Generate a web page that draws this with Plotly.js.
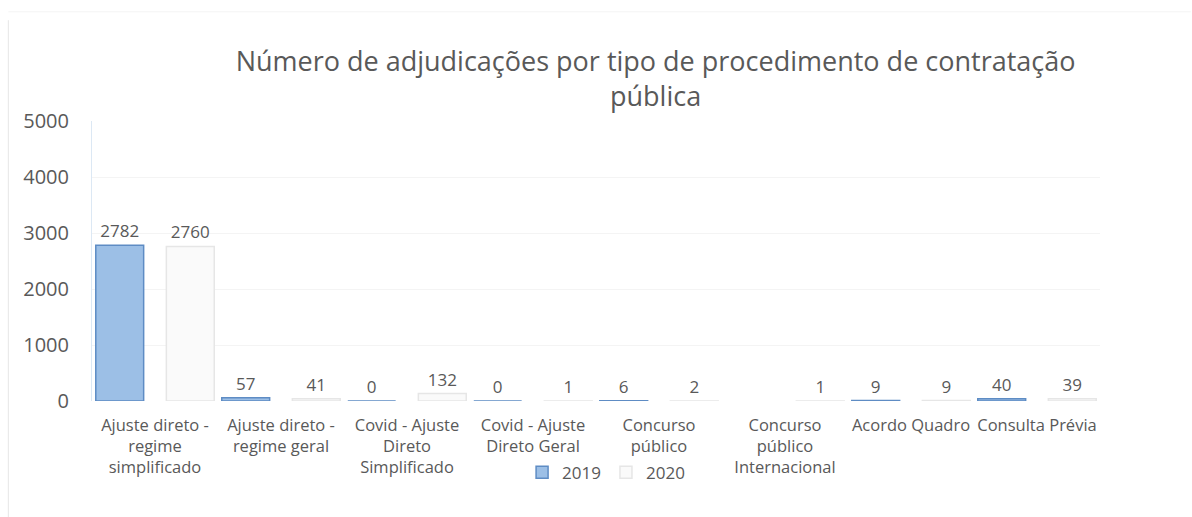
<!DOCTYPE html>
<html>
<head>
<meta charset="utf-8">
<script src="https://cdn.plot.ly/plotly-3.0.1.min.js"></script>
<style>html,body{margin:0;padding:0;background:#fff;}#chart{width:1192px;height:517px;}</style>
</head>
<body>
<div id="chart"></div>
<script>
const categories = [
  "Ajuste direto -<br>regime<br>simplificado",
  "Ajuste direto -<br>regime geral",
  "Covid - Ajuste<br>Direto<br>Simplificado",
  "Covid - Ajuste<br>Direto Geral",
  "Concurso<br>público",
  "Concurso<br>público<br>Internacional",
  "Acordo Quadro",
  "Consulta Prévia"
];
const values2019 = [2782, 57, 0, 0, 6, null, 9, 40];
const values2020 = [2760, 41, 132, 1, 2, 1, 9, 39];
const seriesNames = ["2019", "2020"];
const yTicks = [0, 1000, 2000, 3000, 4000, 5000];

const labelFont = {family: "Open Sans", size: 17, color: "#595959"};
const t1 = {
  type: "bar", name: seriesNames[0], x: categories, y: values2019,
  width: 0.38, offset: -0.47,
  text: values2019.map(v => v === null ? "" : String(v)),
  textposition: "outside", textfont: labelFont, cliponaxis: false,
  marker: {color: "#9CBFE6", line: {color: "#5E8CC4", width: 1.5}},
  hoverinfo: "x+y"
};
const t2 = {
  type: "bar", name: seriesNames[1], x: categories, y: values2020,
  width: 0.38, offset: 0.09,
  text: values2020.map(v => v === null ? "" : String(v)),
  textposition: "outside", textfont: labelFont, cliponaxis: false,
  marker: {color: "#FAFAFA", line: {color: "#E6E6E6", width: 1.5}},
  hoverinfo: "x+y"
};
const layout = {
  width: 1192, height: 517,
  paper_bgcolor: "#ffffff", plot_bgcolor: "#ffffff",
  margin: {l: 92, r: 92, t: 121, b: 116},
  barmode: "overlay",
  title: {
    text: "Número de adjudicações por tipo de procedimento de contratação<br>pública",
    font: {family: "Open Sans", size: 27, color: "#595959"},
    x: 0.55, xanchor: "center", y: 0.862, yanchor: "middle"
  },
  xaxis: {
    tickfont: {family: "Open Sans", size: 16.5, color: "#595959"},
    showgrid: false, showline: false, zeroline: false, ticks: "",
    tickangle: 0, automargin: false, ticklabelstandoff: 12
  },
  yaxis: {
    range: [0, 5000], tickvals: yTicks, ticktext: yTicks.map(String),
    tickfont: {family: "Open Sans", size: 20, color: "#595959"},
    showgrid: true, gridcolor: "#F4F4F4", zeroline: false,
    showline: true, linecolor: "#DCE8F4", linewidth: 1,
    ticks: "", ticklen: 0, automargin: false, ticklabelstandoff: 18
  },
  showlegend: true,
  legend: {
    orientation: "h", x: 0.51, xanchor: "center", y: -0.256, yanchor: "middle",
    font: {family: "Open Sans", size: 17, color: "#595959"},
    bgcolor: "rgba(0,0,0,0)", itemwidth: 30
  },
  shapes: [
    {type: "line", xref: "paper", yref: "paper", x0: -0.083, x1: -0.083, y0: -0.43, y1: 1.36,
     line: {color: "#E6E6E6", width: 1}},
    {type: "line", xref: "paper", yref: "paper", x0: -0.083, x1: 1.09, y0: 1.39, y1: 1.39,
     line: {color: "#F4F4F4", width: 1}}
  ]
};
Plotly.newPlot("chart", [t1, t2], layout, {displayModeBar: false, staticPlot: true});
</script>
</body>
</html>
